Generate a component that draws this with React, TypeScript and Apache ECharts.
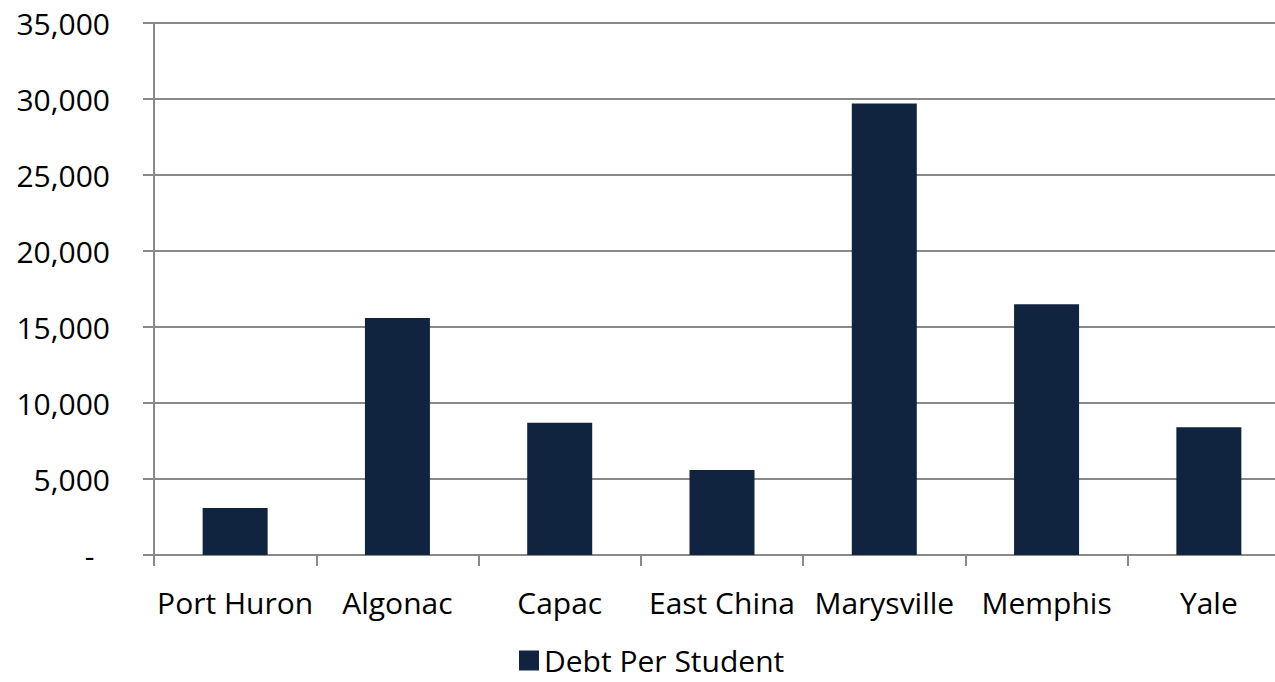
import React, { useEffect, useRef } from "react";
import * as echarts from "echarts";

const categories = ["Port Huron", "Algonac", "Capac", "East China", "Marysville", "Memphis", "Yale"];
const debtPerStudent = [3100, 15600, 8700, 5600, 29700, 16500, 8400];
const seriesName = "Debt Per Student";

const FONT = "'Open Sans', 'Noto Sans', sans-serif";
const GRID_COLOR = "#898989";

export default function App() {
  const ref = useRef<HTMLDivElement>(null);
  useEffect(() => {
    if (!ref.current) return;
    const chart = echarts.init(ref.current, undefined, { renderer: "svg" });
    chart.setOption({
      animation: false,
      backgroundColor: "#ffffff",
      textStyle: { fontFamily: FONT },
      grid: { left: 154, top: 23, bottom: 127, right: 0, containLabel: false },
      legend: {
        show: true,
        left: 519,
        top: 645,
        padding: 0,
        itemWidth: 20,
        itemHeight: 20,
        icon: "rect",
        textStyle: { fontSize: 30, lineHeight: 31, color: "#000", fontFamily: FONT },
        data: [seriesName],
      },
      xAxis: {
        type: "category",
        data: categories,
        boundaryGap: true,
        axisLine: { show: true, lineStyle: { color: GRID_COLOR, width: 2 } },
        axisTick: { show: true, length: 11, lineStyle: { color: GRID_COLOR, width: 2 } },
        axisLabel: { color: "#000", fontSize: 30, margin: 32, fontFamily: FONT, interval: 0 },
      },
      yAxis: {
        type: "value",
        min: 0,
        max: 35000,
        interval: 5000,
        axisLine: { show: true, lineStyle: { color: GRID_COLOR, width: 2 } },
        axisTick: { show: true, length: 11, lineStyle: { color: GRID_COLOR, width: 2 } },
        splitLine: { show: true, lineStyle: { color: GRID_COLOR, width: 2 } },
        axisLabel: {
          color: "#000",
          fontSize: 30,
          margin: 44,
          fontFamily: FONT,
          formatter: (v: number) => (v === 0 ? "-  " : v.toLocaleString("en-US")),
        },
      },
      series: [
        {
          name: seriesName,
          type: "bar",
          data: debtPerStudent,
          barWidth: 65,
          itemStyle: { color: "#11243F" },
        },
      ],
    });
    return () => chart.dispose();
  }, []);
  return (
    <div style={{ position: "absolute", left: 0, top: 0, width: 1275, height: 682, overflow: "hidden" }}>
      <div ref={ref} style={{ width: 1290, height: 682 }} />
    </div>
  );
}
